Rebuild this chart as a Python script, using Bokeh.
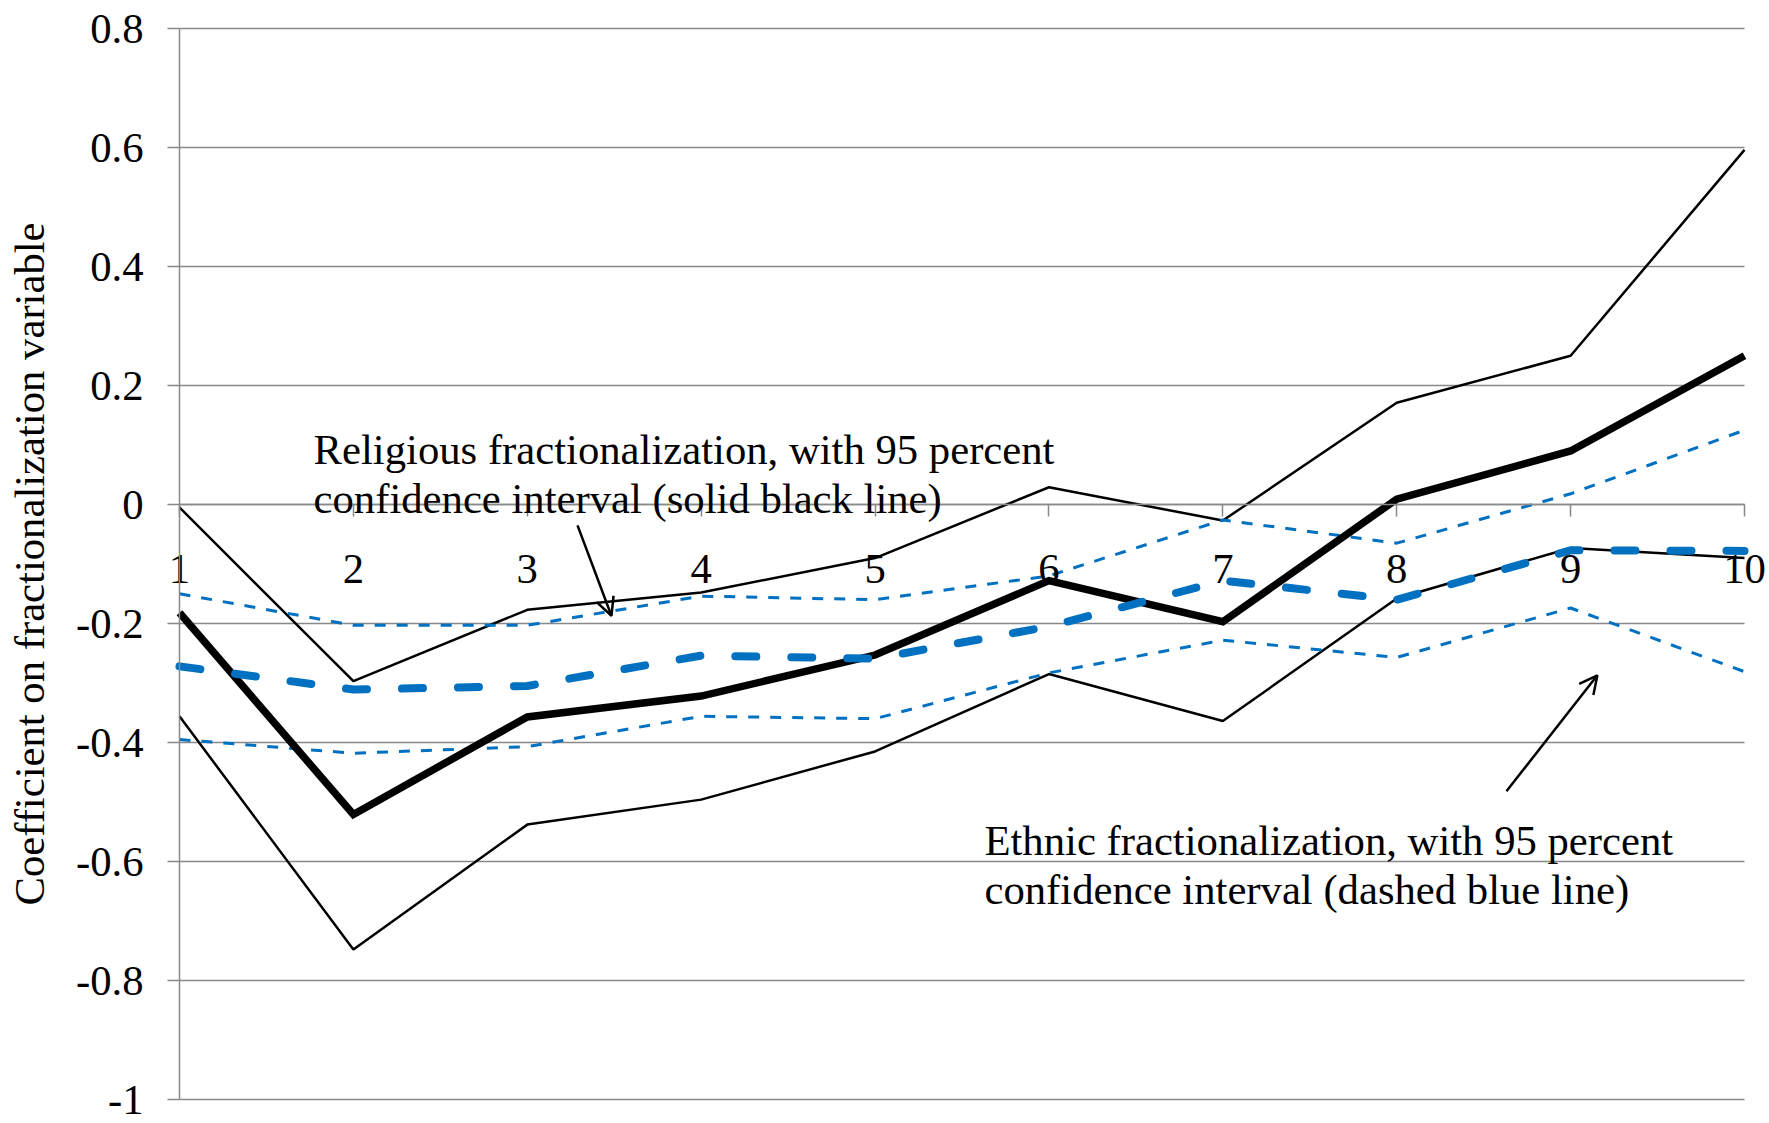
from bokeh.plotting import figure
from bokeh.models import (Range1d, FixedTicker, LinearAxis, Label, Arrow, OpenHead,
                          ColumnDataSource)
from bokeh.embed import file_html
from bokeh.resources import INLINE

# ---- data ----
groups = [1, 2, 3, 4, 5, 6, 7, 8, 9, 10]
x_tick_labels = ["1", "2", "3", "4", "5", "6", "7", "8", "9", "10"]

religious_coef = [-0.182, -0.521, -0.357, -0.322, -0.253, -0.128, -0.197, 0.009, 0.090, 0.250]
religious_upper = [-0.005, -0.297, -0.177, -0.148, -0.090, 0.029, -0.027, 0.171, 0.250, 0.596]
religious_lower = [-0.356, -0.748, -0.538, -0.496, -0.415, -0.285, -0.364, -0.158, -0.073, -0.090]

ethnic_coef = [-0.272, -0.311, -0.305, -0.254, -0.259, -0.205, -0.128, -0.160, -0.077, -0.078]
ethnic_upper = [-0.150, -0.203, -0.203, -0.154, -0.160, -0.120, -0.026, -0.065, 0.018, 0.125]
ethnic_lower = [-0.395, -0.418, -0.407, -0.356, -0.360, -0.283, -0.228, -0.257, -0.174, -0.281]

y_ticks = [-1, -0.8, -0.6, -0.4, -0.2, 0, 0.2, 0.4, 0.6, 0.8]
y_tick_labels = ["-1", "-0.8", "-0.6", "-0.4", "-0.2", "0", "0.2", "0.4", "0.6", "0.8"]

y_title = "Coefficient on fractionalization variable"
religious_note = ["Religious fractionalization, with 95 percent",
                  "confidence interval (solid black line)"]
ethnic_note = ["Ethnic fractionalization, with 95 percent",
               "confidence interval (dashed blue line)"]

FONT = "Liberation Serif"
FSIZE = "42.7px"
GRID = "#898989"
BLUE = "#0070C0"

# ---- page geometry (pixels) ----
W, H = 1769, 1123
X_LEFT_PX, X_RIGHT_PX = 179, 1744     # where groups 1 and 10 sit
Y_TOP_PX, Y_BOT_PX = 28, 1099         # where 0.8 and -1 sit
xppu = (X_RIGHT_PX - X_LEFT_PX) / (groups[-1] - groups[0])
yppu = (Y_BOT_PX - Y_TOP_PX) / (y_ticks[-1] - y_ticks[0])
x_range = Range1d(groups[0] - X_LEFT_PX / xppu, groups[-1] + (W - X_RIGHT_PX) / xppu)
y_range = Range1d(y_ticks[0] - (H - Y_BOT_PX) / yppu, y_ticks[-1] + Y_TOP_PX / yppu)

src = ColumnDataSource(dict(x=groups,
                            rc=religious_coef, ru=religious_upper, rl=religious_lower,
                            ec=ethnic_coef, eu=ethnic_upper, el=ethnic_lower))
grid_src = ColumnDataSource(dict(x0=[groups[0]] * len(y_ticks), x1=[groups[-1]] * len(y_ticks),
                                 y=y_ticks))

p = figure(width=W, height=H, output_backend="svg", toolbar_location=None,
           x_range=x_range, y_range=y_range,
           x_axis_location=None, y_axis_location=None,
           min_border_left=0, min_border_right=0, min_border_top=0, min_border_bottom=0)
p.outline_line_color = None
p.background_fill_color = "white"
p.border_fill_color = "white"
p.xgrid.visible = False
p.ygrid.visible = False

# horizontal gridlines at the y ticks, spanning the category extent
p.segment(x0="x0", y0="y", x1="x1", y1="y", source=grid_src,
          line_color=GRID, line_width=1.5)

# y axis at group 1
yax = LinearAxis(ticker=FixedTicker(ticks=y_ticks), fixed_location=groups[0],
                 bounds=(y_ticks[0], y_ticks[-1]))
yax.major_label_overrides = {t: l for t, l in zip(y_ticks, y_tick_labels)}
yax.axis_line_color = GRID
yax.axis_line_width = 1.5
yax.major_tick_line_color = GRID
yax.major_tick_line_width = 1.5
yax.major_tick_in = 0
yax.major_tick_out = 12
yax.minor_tick_line_color = None
yax.major_label_text_font = FONT
yax.major_label_text_font_size = FSIZE
yax.major_label_text_color = "black"
yax.major_label_standoff = 24
yax.axis_label = y_title
yax.axis_label_text_font = FONT
yax.axis_label_text_font_size = FSIZE
yax.axis_label_text_font_style = "normal"
yax.axis_label_text_color = "black"
yax.axis_label_standoff = 20
p.add_layout(yax, "left")

# x axis crossing at zero
xax = LinearAxis(ticker=FixedTicker(ticks=groups), fixed_location=0,
                 bounds=(groups[0], groups[-1]))
xax.major_label_overrides = {g: l for g, l in zip(groups, x_tick_labels)}
xax.axis_line_color = GRID
xax.axis_line_width = 1.5
xax.major_tick_line_color = GRID
xax.major_tick_line_width = 1.5
xax.major_tick_in = 0
xax.major_tick_out = 12
xax.minor_tick_line_color = None
xax.major_label_text_font = FONT
xax.major_label_text_font_size = FSIZE
xax.major_label_text_color = "black"
xax.major_label_standoff = 38
p.add_layout(xax, "below")

# lines
p.line("x", "ru", source=src, line_color="black", line_width=2.5)
p.line("x", "rl", source=src, line_color="black", line_width=2.5)
p.line("x", "eu", source=src, line_color=BLUE, line_width=3, line_dash="11 11")
p.line("x", "el", source=src, line_color=BLUE, line_width=3, line_dash="11 11")
p.line("x", "rc", source=src, line_color="black", line_width=7.5, line_join="miter")
p.line("x", "ec", source=src, line_color=BLUE, line_width=8, line_dash="21 35",
       line_cap="round")

# annotations
for i, t in enumerate(religious_note):
    p.add_layout(Label(x=1.771, y=0.093 - i * 0.0833, text=t, text_font=FONT,
                       text_font_size=FSIZE, text_color="black",
                       text_baseline="alphabetic", text_align="left"))
for i, t in enumerate(ethnic_note):
    p.add_layout(Label(x=5.629, y=-0.565 - i * 0.082, text=t, text_font=FONT,
                       text_font_size=FSIZE, text_color="black",
                       text_baseline="alphabetic", text_align="left"))

p.add_layout(Arrow(x_start=3.289, y_start=-0.035, x_end=3.484, y_end=-0.187,
                   line_width=2.5, line_color="black",
                   end=OpenHead(size=18, line_width=2.5, line_color="black")))
p.add_layout(Arrow(x_start=8.631, y_start=-0.482, x_end=9.154, y_end=-0.287,
                   line_width=2.5, line_color="black",
                   end=OpenHead(size=18, line_width=2.5, line_color="black")))

open("out.html", "w").write(file_html(p, INLINE))
